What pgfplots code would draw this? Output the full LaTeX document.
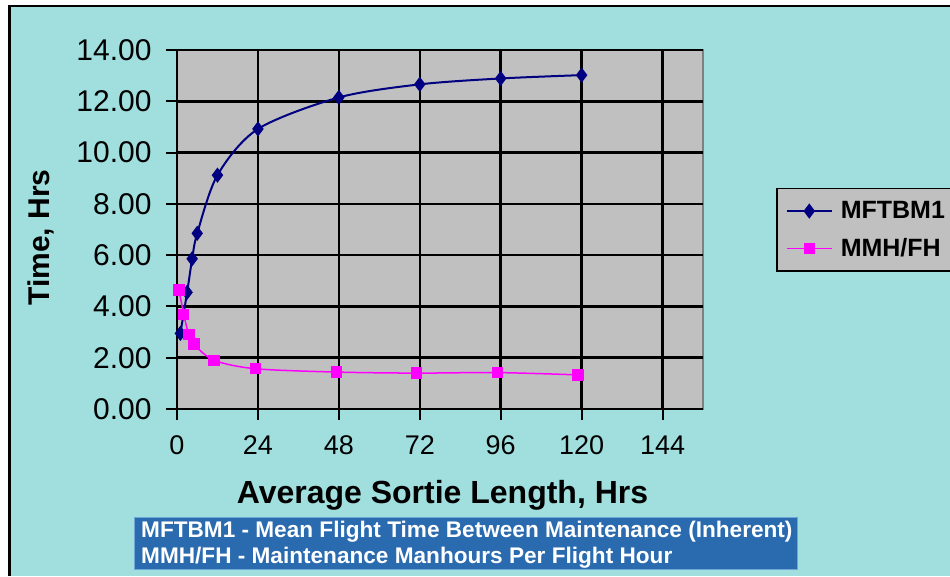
\documentclass[border=0pt]{standalone}
\usepackage{fontspec}
\setmainfont{Liberation Sans}
\usepackage{pgfplots}
\pgfplotsset{compat=1.18}
\definecolor{bgcyan}{HTML}{A1DFDF}
\definecolor{plotgray}{HTML}{C0C0C0}
\definecolor{bordergray}{HTML}{808080}
\definecolor{capblue}{HTML}{2A6AAF}
\definecolor{capedge}{HTML}{6FA6D6}
\definecolor{navyline}{HTML}{000080}
\definecolor{pinkline}{HTML}{FF00FF}
\begin{document}
\begin{tikzpicture}
\useasboundingbox (0pt,0pt) rectangle (950pt,576pt);
\fill[white] (0pt,0pt) rectangle (950pt,576pt);
\fill[bgcyan] (10pt,0pt) rectangle (950pt,570pt);
\draw[black, line width=2.5pt] (9.5pt,0pt) -- (9.5pt,570pt) -- (950pt,570pt);
\begin{axis}[
  at={(177pt,167pt)}, anchor=south west,
  scale only axis, width=526pt, height=359pt,
  xmin=0, xmax=156, ymin=0, ymax=14,
  xtick={0,24,48,72,96,120,144},
  ytick={0,2,4,6,8,10,12,14},
  axis background/.style={fill=plotgray, draw=bordergray, line width=2.5pt},
  axis lines*=left,
  axis line style={black, line width=2.5pt, -},
  grid=major,
  major grid style={black, line width=2.5pt},
  tick align=outside,
  major tick length=11pt,
  tick style={black, line width=2pt},
  /pgf/number format/assume math mode=true,
  yticklabel style={/pgf/number format/.cd, fixed, fixed zerofill, precision=2, /tikz/.cd, font=\fontsize{30}{33}\selectfont, xshift=-11pt},
  xticklabel style={font=\fontsize{27}{30}\selectfont, yshift=-12pt},
  every axis x label/.style={at={(axis description cs:0.5048,-0.2627)}, anchor=base},
  every axis y label/.style={at={(axis description cs:-0.2595,0.4777)}, anchor=center, rotate=90},
  xlabel={\bfseries\fontsize{32}{36}\selectfont Average Sortie Length, Hrs},
  ylabel={\bfseries\fontsize{30}{36}\selectfont Time, Hrs},
  clip=false,
  legend style={at={(axis description cs:1.1388,0.6156)}, anchor=north west,
    draw=black, line width=1.5pt, fill=plotgray,
    font=\bfseries\fontsize{25}{29}\selectfont,
    inner xsep=9pt, inner ysep=11pt, row sep=14pt, column sep=6pt},
  legend cell align=left,
  legend image code/.code={\draw[mark repeat=2,mark phase=2,#1] plot coordinates {(0pt,0pt) (22.5pt,0pt) (45pt,0pt)};},
]
\addplot[navyline, line width=2pt, smooth, tension=0.5, mark=diamond*, mark size=6pt, mark options={solid, fill=navyline, draw=navyline}]
  coordinates {(1,2.95) (3,4.55) (4.5,5.86) (6,6.85) (12,9.12) (24,10.92) (48,12.15) (72,12.66) (96,12.89) (120,13.02)};
\addlegendentry{MFTBM1}
\addplot[pinkline, line width=1.5pt, smooth, tension=0.5, mark=square*, mark size=5pt, mark options={solid, fill=pinkline, draw=pinkline}]
  coordinates {(0.6,4.64) (2,3.69) (3.5,2.90) (5,2.53) (11,1.90) (23.3,1.57) (47.3,1.44) (71,1.40) (95,1.42) (119,1.33)};
\addlegendentry{MMH/FH}
\end{axis}
\fill[capblue, draw=capedge, line width=1pt] (134pt,7pt) rectangle (797pt,59pt);
\node[anchor=base west, inner sep=0pt, text=white, font=\bfseries\fontsize{22.6}{26}\selectfont] at (141pt,38.7pt) {MFTBM1 - Mean Flight Time Between Maintenance (Inherent)};
\node[anchor=base west, inner sep=0pt, text=white, font=\bfseries\fontsize{22.6}{26}\selectfont] at (141pt,12.7pt) {MMH/FH - Maintenance Manhours Per Flight Hour};
\end{tikzpicture}
\end{document}
